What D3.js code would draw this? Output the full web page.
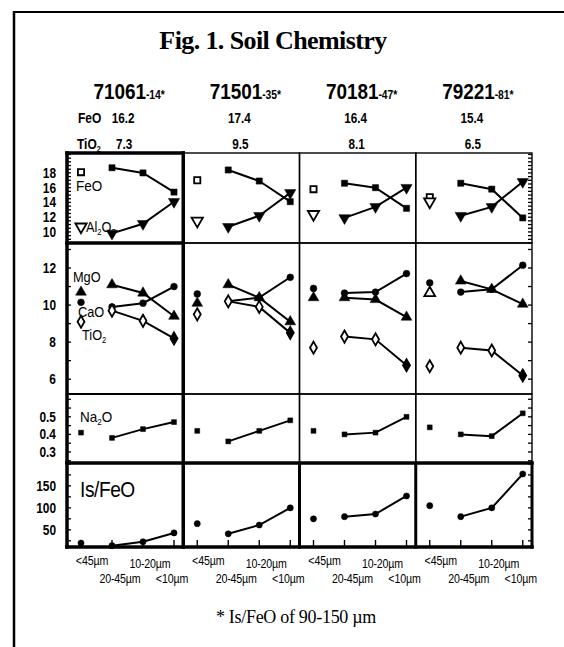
<!DOCTYPE html>
<html>
<head>
<meta charset="utf-8">
<script src="https://cdn.jsdelivr.net/npm/d3@7"></script>
<style>
  body { margin: 0; background: #fff; }
  text { fill: #000; }
</style>
</head>
<body>
<svg id="chart"></svg>
<script>
// Samples and bulk values shown in the header.
const samples = ['71061', '71501', '70181', '79221'];
const sampleSubs = ['-14*', '-35*', '-47*', '-81*'];
const feoBulk = ['16.2', '17.4', '16.4', '15.4'];
const tio2Bulk = ['7.3', '9.5', '8.1', '6.5'];

// Grain size fractions: first one is plotted on its own, the rest joined.
const sizes = ['<45µm', '20-45µm', '10-20µm', '<10µm'];

// One row per sample, values in the order of `sizes`.
const feo = [
  [18.1, 18.7, 18.0, 15.4],
  [17.0, 18.4, 16.9, 14.1],
  [15.8, 16.6, 16.0, 13.2],
  [14.7, 16.6, 15.8, 11.9]
];
const al2o3 = [
  [10.7, 9.8, 11.1, 14.1],
  [11.5, 10.7, 12.2, 15.3],
  [12.4, 11.9, 13.4, 16.0],
  [14.1, 12.2, 13.4, 16.8]
];
const mgo = [
  [10.7, 11.1, 10.65, 9.4],
  [10.1, 11.1, 10.4, 9.1],
  [10.4, 10.4, 10.3, 9.35],
  [10.65, 11.3, 10.85, 10.05]
];
const cao = [
  [10.15, 9.9, 10.1, 11.0],
  [10.6, 10.2, 10.4, 11.5],
  [10.9, 10.65, 10.7, 11.7],
  [11.2, 10.7, 10.85, 12.15]
];
const tio2 = [
  [9.1, 9.7, 9.15, 8.2],
  [9.5, 10.2, 9.9, 8.5],
  [7.7, 8.3, 8.15, 6.75],
  [6.7, 7.7, 7.55, 6.2]
];
const na2o = [
  [0.41, 0.38, 0.43, 0.47],
  [0.42, 0.36, 0.42, 0.48],
  [0.42, 0.40, 0.41, 0.50],
  [0.44, 0.40, 0.39, 0.52]
];
const isFeo = [
  [20, 14, 23, 43],
  [64, 41, 61, 100],
  [75, 80, 86, 127],
  [105, 80, 100, 177]
];

const rowTicks = [[10, 12, 14, 16, 18], [6, 8, 10, 12], [0.3, 0.4, 0.5], [50, 100, 150]];

const width = 564;
const height = 647;
const x0 = 67;
const pw = 116.25;
const rowEdges = [153, 243, 394, 463, 547];
const yDomains = [[8.5, 20.7], [5.2, 13.35], [0.237, 0.63], [11, 202]];
const minorStep = [0.5, 1, 0.05, 25];
const sans = "'Liberation Sans', Arial, sans-serif";
const serif = "'Liberation Serif', 'Times New Roman', serif";

let svg = d3.select('#chart')
  .attr('width', width)
  .attr('height', height);

// Condensed text helper: scales glyphs horizontally.
function label(g, x, y, size, sx, anchor) {
  return g.append('text')
    .attr('transform', `translate(${x},${y}) scale(${sx},1)`)
    .attr('font-family', sans)
    .attr('font-size', size)
    .attr('text-anchor', anchor || 'start');
}

// parts: [text, isSub]
function chem(t, parts) {
  let shift = 0;
  parts.forEach(([s, sub]) => {
    let dy = sub ? 3 - shift : -shift;
    shift = sub ? 3 : 0;
    t.append('tspan')
      .attr('font-size', sub ? '0.6em' : null)
      .attr('dy', dy || null)
      .text(s);
  });
  return t;
}

// Page frame.
svg.append('line').attr('x1', 13).attr('x2', width).attr('y1', 12).attr('y2', 12)
  .attr('stroke', '#000').attr('stroke-width', 2);
svg.append('line').attr('x1', 14).attr('x2', 14).attr('y1', 11).attr('y2', height)
  .attr('stroke', '#000').attr('stroke-width', 2.5);

// Title.
svg.append('text')
  .attr('x', 273).attr('y', 49)
  .attr('text-anchor', 'middle')
  .attr('font-family', serif)
  .attr('font-weight', 'bold')
  .attr('font-size', 26)
  .attr('letter-spacing', -0.6)
  .text('Fig. 1.  Soil Chemistry');

let colCenter = i => x0 + i * pw + pw / 2;

// Sample names.
samples.forEach((s, i) => {
  let t = label(svg, colCenter(i) + 4, 99, 22, 0.86, 'middle').attr('font-weight', 'bold');
  t.append('tspan').text(s);
  t.append('tspan').attr('font-size', 12).text(sampleSubs[i]);
});

// Bulk FeO / TiO2 rows.
label(svg, 78, 123, 15, 0.8).attr('font-weight', 'bold').text('FeO');
chem(label(svg, 77, 149, 15, 0.8).attr('font-weight', 'bold'), [['TiO', 0], ['2', 1]]);
feoBulk.forEach((v, i) => label(svg, colCenter(i) - 2, 123, 15, 0.78, 'middle').attr('font-weight', 'bold').text(v));
tio2Bulk.forEach((v, i) => label(svg, colCenter(i) - 1, 149, 15, 0.78, 'middle').attr('font-weight', 'bold').text(v));

let xs = d3.scalePoint().domain(sizes).range([14, 107]);
let yScales = yDomains.map((d, r) => d3.scaleLinear().domain(d).range([rowEdges[r + 1], rowEdges[r]]));

// Thin panel borders.
for (let r = 0; r < 4; r++) {
  for (let c = 0; c < 4; c++) {
    svg.append('rect')
      .attr('x', x0 + c * pw).attr('y', rowEdges[r])
      .attr('width', pw).attr('height', rowEdges[r + 1] - rowEdges[r])
      .attr('fill', 'none').attr('stroke', '#000').attr('stroke-width', 1.4);
  }
}

// Minor ticks on left of first column and right of last column.
yScales.forEach((y, r) => {
  let [lo, hi] = y.domain();
  let step = minorStep[r];
  let vals = d3.range(Math.ceil(lo / step) * step, hi, step);
  svg.append('g').selectAll('line.l')
    .data(vals)
    .enter().append('line')
      .attr('x1', x0).attr('x2', x0 + 4)
      .attr('y1', d => y(d)).attr('y2', d => y(d))
      .attr('stroke', '#000').attr('stroke-width', 1.3);
  svg.append('g').selectAll('line.r')
    .data(vals)
    .enter().append('line')
      .attr('x1', x0 + 4 * pw - 4).attr('x2', x0 + 4 * pw)
      .attr('y1', d => y(d)).attr('y2', d => y(d))
      .attr('stroke', '#000').attr('stroke-width', 1.3);

  // Tick labels.
  let fmt = r === 2 ? d3.format('.1f') : d3.format('d');
  svg.append('g').selectAll('text')
    .data(rowTicks[r])
    .enter().append('text')
      .attr('transform', d => `translate(56,${y(d) + 5}) scale(0.85,1)`)
      .attr('text-anchor', 'end')
      .attr('font-family', sans)
      .attr('font-weight', 'bold')
      .attr('font-size', 14)
      .text(d => fmt(d));
});

// Bottom ticks and size labels (staggered on two lines).
for (let c = 0; c < 4; c++) {
  let g = svg.append('g').attr('transform', `translate(${x0 + c * pw},0)`);
  g.selectAll('line')
    .data(sizes)
    .enter().append('line')
      .attr('x1', d => xs(d)).attr('x2', d => xs(d))
      .attr('y1', rowEdges[4]).attr('y2', rowEdges[4] - 7)
      .attr('stroke', '#000').attr('stroke-width', 1.4);
  g.selectAll('text')
    .data(sizes)
    .enter().append('text')
      .attr('transform', (d, i) => `translate(${xs(d) + [11, 8, 7, -2][i]},${[565, 583, 568, 583][i]}) scale(0.82,1)`)
      .attr('text-anchor', 'middle')
      .attr('font-family', sans)
      .attr('font-size', 13)
      .attr('letter-spacing', -0.2)
      .text(d => d);
}

// Data series.
const series = [
  { row: 0, vals: feo, sym: d3.symbolSquare, size: 38, isoOpen: () => true },
  { row: 0, vals: al2o3, sym: d3.symbolTriangle, size: 55, flip: true, isoOpen: () => true },
  { row: 1, vals: mgo, sym: d3.symbolTriangle, size: 50, isoOpen: c => c === 3 },
  { row: 1, vals: cao, sym: d3.symbolCircle, size: 36, isoOpen: () => false },
  { row: 1, vals: tio2, sym: d3.symbolDiamond, size: 42, isoOpen: () => true, lineOpen: true },
  { row: 2, vals: na2o, sym: d3.symbolSquare, size: 24, isoOpen: () => false },
  { row: 3, vals: isFeo, sym: d3.symbolCircle, size: 30, isoOpen: () => false }
];

let line = d3.line();

series.forEach(s => {
  let y = yScales[s.row];
  s.vals.forEach((vals, c) => {
    let g = svg.append('g').attr('transform', `translate(${x0 + c * pw},0)`);
    let pts = vals.map((v, i) => [xs(sizes[i]), y(v)]);
    g.append('path')
      .attr('d', line(pts.slice(1)))
      .attr('fill', 'none')
      .attr('stroke', '#000')
      .attr('stroke-width', 2);
    g.selectAll('path.m')
      .data(pts)
      .enter().append('path')
        .attr('class', 'm')
        .attr('transform', d => `translate(${d[0]},${d[1]})${s.flip ? ' rotate(180)' : ''}`)
        .attr('d', d3.symbol(s.sym, s.size))
        .attr('fill', (d, i) => (i === 0 ? s.isoOpen(c) : s.lineOpen && i < 3) ? '#fff' : '#000')
        .attr('stroke', '#000')
        .attr('stroke-width', (d, i) => (i === 0 ? s.isoOpen(c) : s.lineOpen) ? 1.8 : 0.5);
  });
});

// Thick borders: first column and bottom row.
const thick = (x1, y1, x2, y2, w) => svg.append('line')
  .attr('x1', x1).attr('y1', y1).attr('x2', x2).attr('y2', y2)
  .attr('stroke', '#000').attr('stroke-width', w).attr('stroke-linecap', 'square');
thick(x0, rowEdges[0], x0, rowEdges[4], 3.5);
thick(x0 + pw, rowEdges[0], x0 + pw, rowEdges[4], 3.5);
thick(x0, rowEdges[0], x0 + pw, rowEdges[0], 3.5);
thick(x0, rowEdges[1], x0 + pw, rowEdges[1], 3.5);
thick(x0, rowEdges[2], x0 + pw, rowEdges[2], 2.2);
thick(x0, rowEdges[3], x0 + 4 * pw, rowEdges[3], 3.5);
thick(x0, rowEdges[4], x0 + 4 * pw, rowEdges[4], 3.5);
for (let c = 2; c <= 4; c++) thick(x0 + c * pw, rowEdges[3], x0 + c * pw, rowEdges[4], 3);

// Legend labels inside the first column.
label(svg, 76, 191, 15, 0.9).text('FeO');
chem(label(svg, 86, 232, 15, 0.85), [['Al', 0], ['2', 1], ['O', 0], ['3', 1]]);
label(svg, 73, 282, 15, 0.85).text('MgO');
label(svg, 78, 317, 15, 0.85).text('CaO');
chem(label(svg, 82, 340, 15, 0.85), [['TiO', 0], ['2', 1]]);
chem(label(svg, 80, 422, 15, 0.9), [['Na', 0], ['2', 1], ['O', 0]]);
label(svg, 80, 497, 22, 0.87).attr('letter-spacing', -0.5).text('Is/FeO');

// Footnote.
svg.append('text')
  .attr('x', 296).attr('y', 623)
  .attr('text-anchor', 'middle')
  .attr('font-family', serif)
  .attr('font-size', 18)
  .attr('letter-spacing', -0.3)
  .text('* Is/FeO of 90-150 µm');
</script>
</body>
</html>
